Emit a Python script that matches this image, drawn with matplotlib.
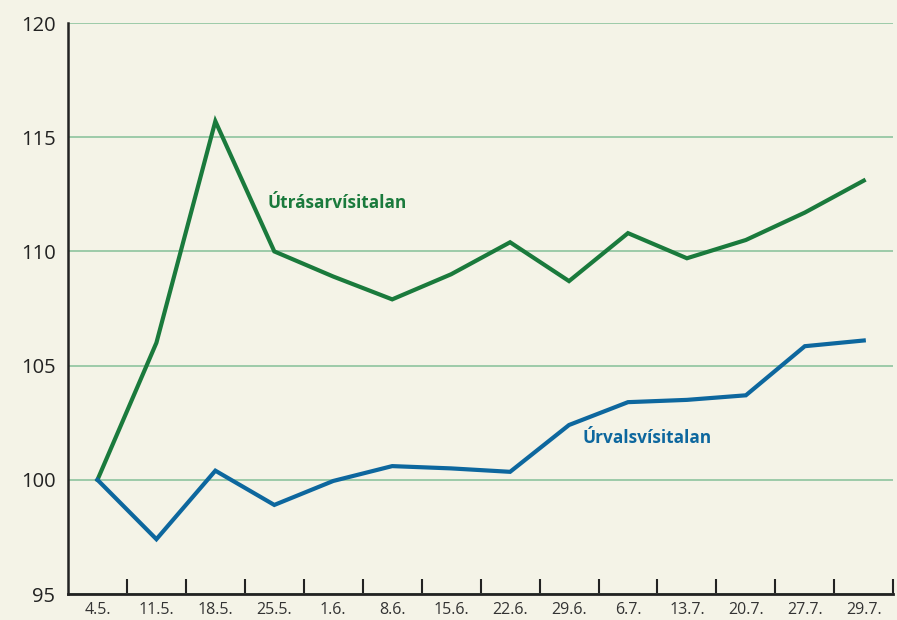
import numpy as np
import matplotlib.pyplot as plt
from matplotlib.ticker import FixedLocator

dates = ["4.5.", "11.5.", "18.5.", "25.5.", "1.6.", "8.6.", "15.6.",
         "22.6.", "29.6.", "6.7.", "13.7.", "20.7.", "27.7.", "29.7."]
utras = [100.0, 106.0, 115.7, 110.0, 108.9, 107.9, 109.0,
         110.4, 108.7, 110.8, 109.7, 110.5, 111.7, 113.1]
urvals = [100.0, 97.4, 100.4, 98.9, 99.95, 100.6, 100.5,
          100.35, 102.4, 103.4, 103.5, 103.7, 105.85, 106.1]

bg = "#f4f3e7"
green = "#1a7a3c"
blue = "#0d679e"

plt.rcParams['font.family'] = ['Open Sans', 'DejaVu Sans']

fig = plt.figure(figsize=(8.97, 6.2), dpi=100, facecolor=bg)
ax = fig.add_axes([0.0758, 0.0419, 0.9200, 0.921])
ax.set_facecolor(bg)

x = np.arange(len(dates))
ax.plot(x, utras, color=green, lw=3, solid_joinstyle='miter')
ax.plot(x, urvals, color=blue, lw=3, solid_joinstyle='miter')

ax.text(2.89, 112.1, "Útrásarvísitalan", color=green, fontsize=12.4,
        fontweight='bold', va='center', ha='left')
ax.text(8.23, 101.83, "Úrvalsvísitalan", color=blue, fontsize=12.4,
        fontweight='bold', va='center', ha='left')

ax.set_xlim(-0.5, len(dates) - 0.5)
ax.set_ylim(95, 120)
ax.set_yticks([95, 100, 105, 110, 115, 120])
ax.yaxis.grid(True, color="#9ccaa9", lw=1.4)
ax.set_axisbelow(True)
ax.tick_params(axis='y', length=0, labelsize=14.5, pad=9, colors="#222222")

ax.set_xticks(x)
ax.set_xticklabels(dates)
ax.tick_params(axis='x', which='major', length=0, labelsize=11.5, pad=6,
               labelcolor="#333333")
ax.xaxis.set_minor_locator(FixedLocator(np.arange(0.5, len(dates), 1)))
ax.tick_params(axis='x', which='minor', direction='in', length=11, width=1.5,
               color="#222222")

for s in ['top', 'right']:
    ax.spines[s].set_visible(False)
ax.spines['left'].set_linewidth(1.8)
ax.spines['bottom'].set_linewidth(2)
ax.spines['left'].set_color("#222222")
ax.spines['bottom'].set_color("#222222")

fig.savefig("out.png", dpi=100, facecolor=bg)
